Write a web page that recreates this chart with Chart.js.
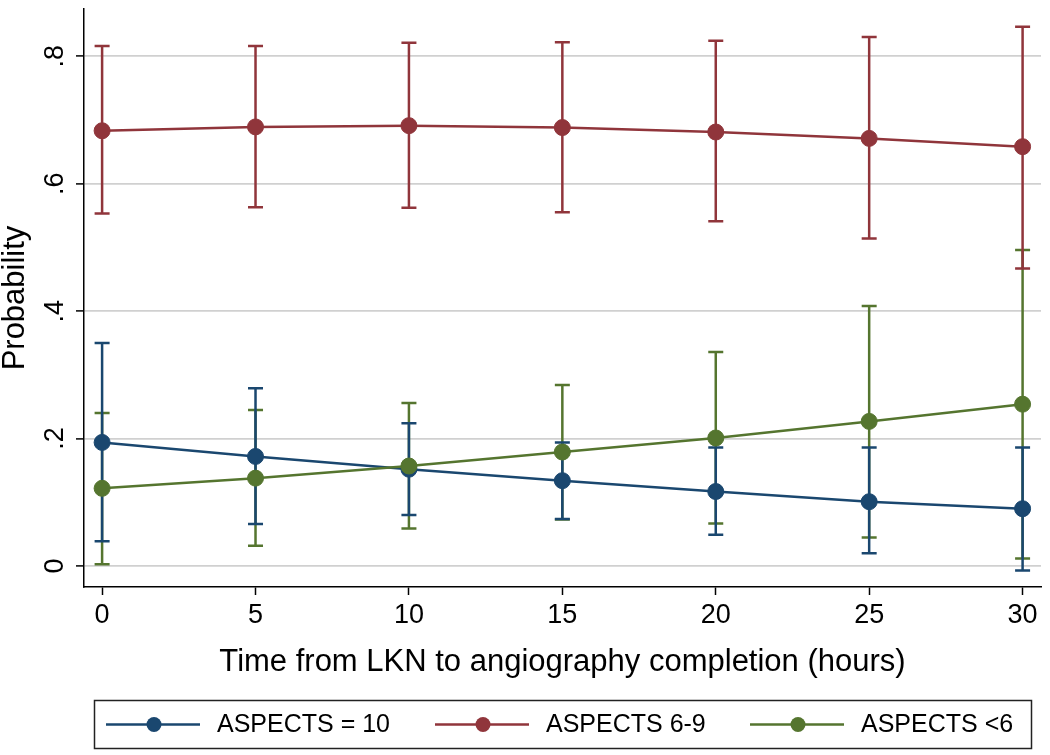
<!DOCTYPE html>
<html>
<head>
<meta charset="utf-8">
<script src="https://cdn.jsdelivr.net/npm/chart.js@4.4.1/dist/chart.umd.min.js"></script>
<style>
  html, body { margin: 0; padding: 0; background: #fff; }
  #wrap { width: 1050px; height: 755px; position: relative; }
</style>
</head>
<body>
<div id="wrap"><canvas id="chart"></canvas></div>
<script>
// data
const hours = [0, 5, 10, 15, 20, 25, 30];
const xTicks = [0, 5, 10, 15, 20, 25, 30];
const yTicks = [0, 0.2, 0.4, 0.6, 0.8];
const yTickLabels = ['0', '.2', '.4', '.6', '.8'];
const seriesNames = ['ASPECTS = 10', 'ASPECTS 6-9', 'ASPECTS <6'];
const seriesColors = ['#1a476f', '#90353b', '#55752f'];

const aspects10 = [0.194, 0.172, 0.152, 0.134, 0.117, 0.101, 0.090];
const aspects10Low = [0.039, 0.066, 0.080, 0.074, 0.049, 0.020, -0.007];
const aspects10High = [0.350, 0.279, 0.224, 0.194, 0.186, 0.186, 0.186];

const aspects69 = [0.683, 0.689, 0.691, 0.688, 0.681, 0.671, 0.658];
const aspects69Low = [0.553, 0.563, 0.562, 0.555, 0.541, 0.514, 0.467];
const aspects69High = [0.816, 0.816, 0.821, 0.822, 0.824, 0.830, 0.846];

const aspectsLt6 = [0.122, 0.138, 0.157, 0.179, 0.201, 0.227, 0.254];
const aspectsLt6Low = [0.003, 0.032, 0.059, 0.073, 0.067, 0.045, 0.012];
const aspectsLt6High = [0.240, 0.245, 0.256, 0.284, 0.336, 0.408, 0.496];

const FONT = '"Liberation Sans", Arial, Helvetica, sans-serif';

function makeSet(i, vals, low, high, order) {
  return {
    label: seriesNames[i],
    data: hours.map((h, k) => ({ x: h, y: vals[k] })),
    low: low,
    high: high,
    borderColor: seriesColors[i],
    backgroundColor: seriesColors[i],
    pointBackgroundColor: seriesColors[i],
    pointBorderColor: seriesColors[i],
    pointBorderWidth: 1,
    pointRadius: 8,
    borderWidth: 2.5,
    tension: 0,
    order: order
  };
}

// confidence intervals (capped spikes) drawn under the lines
const errorBars = {
  id: 'errorBars',
  beforeDatasetsDraw(chart) {
    const { ctx, scales: { x, y } } = chart;
    ctx.save();
    chart.data.datasets.slice().reverse().forEach(ds => {
      ctx.strokeStyle = ds.borderColor;
      ctx.lineWidth = 2.5;
      ds.data.forEach((p, i) => {
        const px = x.getPixelForValue(p.x);
        const lo = y.getPixelForValue(ds.low[i]);
        const hi = y.getPixelForValue(ds.high[i]);
        ctx.beginPath();
        ctx.moveTo(px, lo); ctx.lineTo(px, hi);
        ctx.moveTo(px - 7.5, lo); ctx.lineTo(px + 7.5, lo);
        ctx.moveTo(px - 7.5, hi); ctx.lineTo(px + 7.5, hi);
        ctx.stroke();
      });
    });
    ctx.restore();
  }
};

// Stata style legend box at the bottom
const boxLegend = {
  id: 'boxLegend',
  afterDraw(chart) {
    const ctx = chart.ctx;
    const starts = [106, 435, 750];
    ctx.save();
    ctx.strokeStyle = '#222';
    ctx.lineWidth = 1.5;
    ctx.strokeRect(94.5, 700.5, 937, 48);
    ctx.font = '25px ' + FONT;
    ctx.textBaseline = 'middle';
    seriesNames.forEach((name, i) => {
      const x0 = starts[i], yc = 724.5;
      ctx.strokeStyle = seriesColors[i];
      ctx.lineWidth = 2.5;
      ctx.beginPath();
      ctx.moveTo(x0, yc); ctx.lineTo(x0 + 94, yc);
      ctx.stroke();
      ctx.fillStyle = seriesColors[i];
      ctx.beginPath();
      ctx.arc(x0 + 48, yc, 7.5, 0, Math.PI * 2);
      ctx.fill();
      ctx.fillStyle = '#000';
      ctx.fillText(name, x0 + 111, yc + 1);
    });
    ctx.restore();
  }
};

new Chart(document.getElementById('chart'), {
  type: 'line',
  data: {
    datasets: [
      makeSet(0, aspects10, aspects10Low, aspects10High, 2),
      makeSet(1, aspects69, aspects69Low, aspects69High, 1),
      makeSet(2, aspectsLt6, aspectsLt6Low, aspectsLt6High, 0)
    ]
  },
  options: {
    responsive: true,
    maintainAspectRatio: false,
    animation: false,
    layout: { padding: { top: 6, right: 8, left: 0, bottom: 68 } },
    plugins: {
      legend: { display: false },
      tooltip: { enabled: false }
    },
    scales: {
      x: {
        type: 'linear',
        min: -0.59,
        max: 30.6,
        afterBuildTicks: s => { s.ticks = xTicks.map(v => ({ value: v })); },
        afterFit: s => { s.height = 100; s.paddingLeft = 0; s.paddingRight = 0; },
        grid: { drawOnChartArea: false, drawTicks: true, tickLength: 8, tickColor: '#000', tickWidth: 1.5 },
        border: { color: '#000', width: 1.5 },
        ticks: { color: '#000', padding: 4, font: { family: FONT, size: 27 }, maxRotation: 0 },
        title: {
          display: true,
          text: 'Time from LKN to angiography completion (hours)',
          color: '#000',
          font: { family: FONT, size: 31 },
          padding: { top: 0, bottom: 6 }
        }
      },
      y: {
        type: 'linear',
        min: -0.0328,
        max: 0.874,
        afterBuildTicks: s => { s.ticks = yTicks.map(v => ({ value: v })); },
        afterFit: s => { s.width = 84; s.paddingTop = 0; s.paddingBottom = 0; },
        grid: { color: '#d0d0d0', lineWidth: 1.8, tickLength: 8, tickColor: '#000', tickWidth: 1.5 },
        border: { color: '#000', width: 1.5 },
        ticks: {
          color: '#000',
          padding: 9,
          minRotation: 90,
          maxRotation: 90,
          crossAlign: 'center',
          font: { family: FONT, size: 27 },
          callback: v => {
            const k = yTicks.findIndex(t => Math.abs(t - v) < 1e-9);
            return k >= 0 ? yTickLabels[k] : '';
          }
        },
        title: {
          display: true,
          text: 'Probability',
          color: '#000',
          font: { family: FONT, size: 31, lineHeight: 1 },
          padding: { top: 0, bottom: 0 }
        }
      }
    }
  },
  plugins: [errorBars, boxLegend]
});
</script>
</body>
</html>
